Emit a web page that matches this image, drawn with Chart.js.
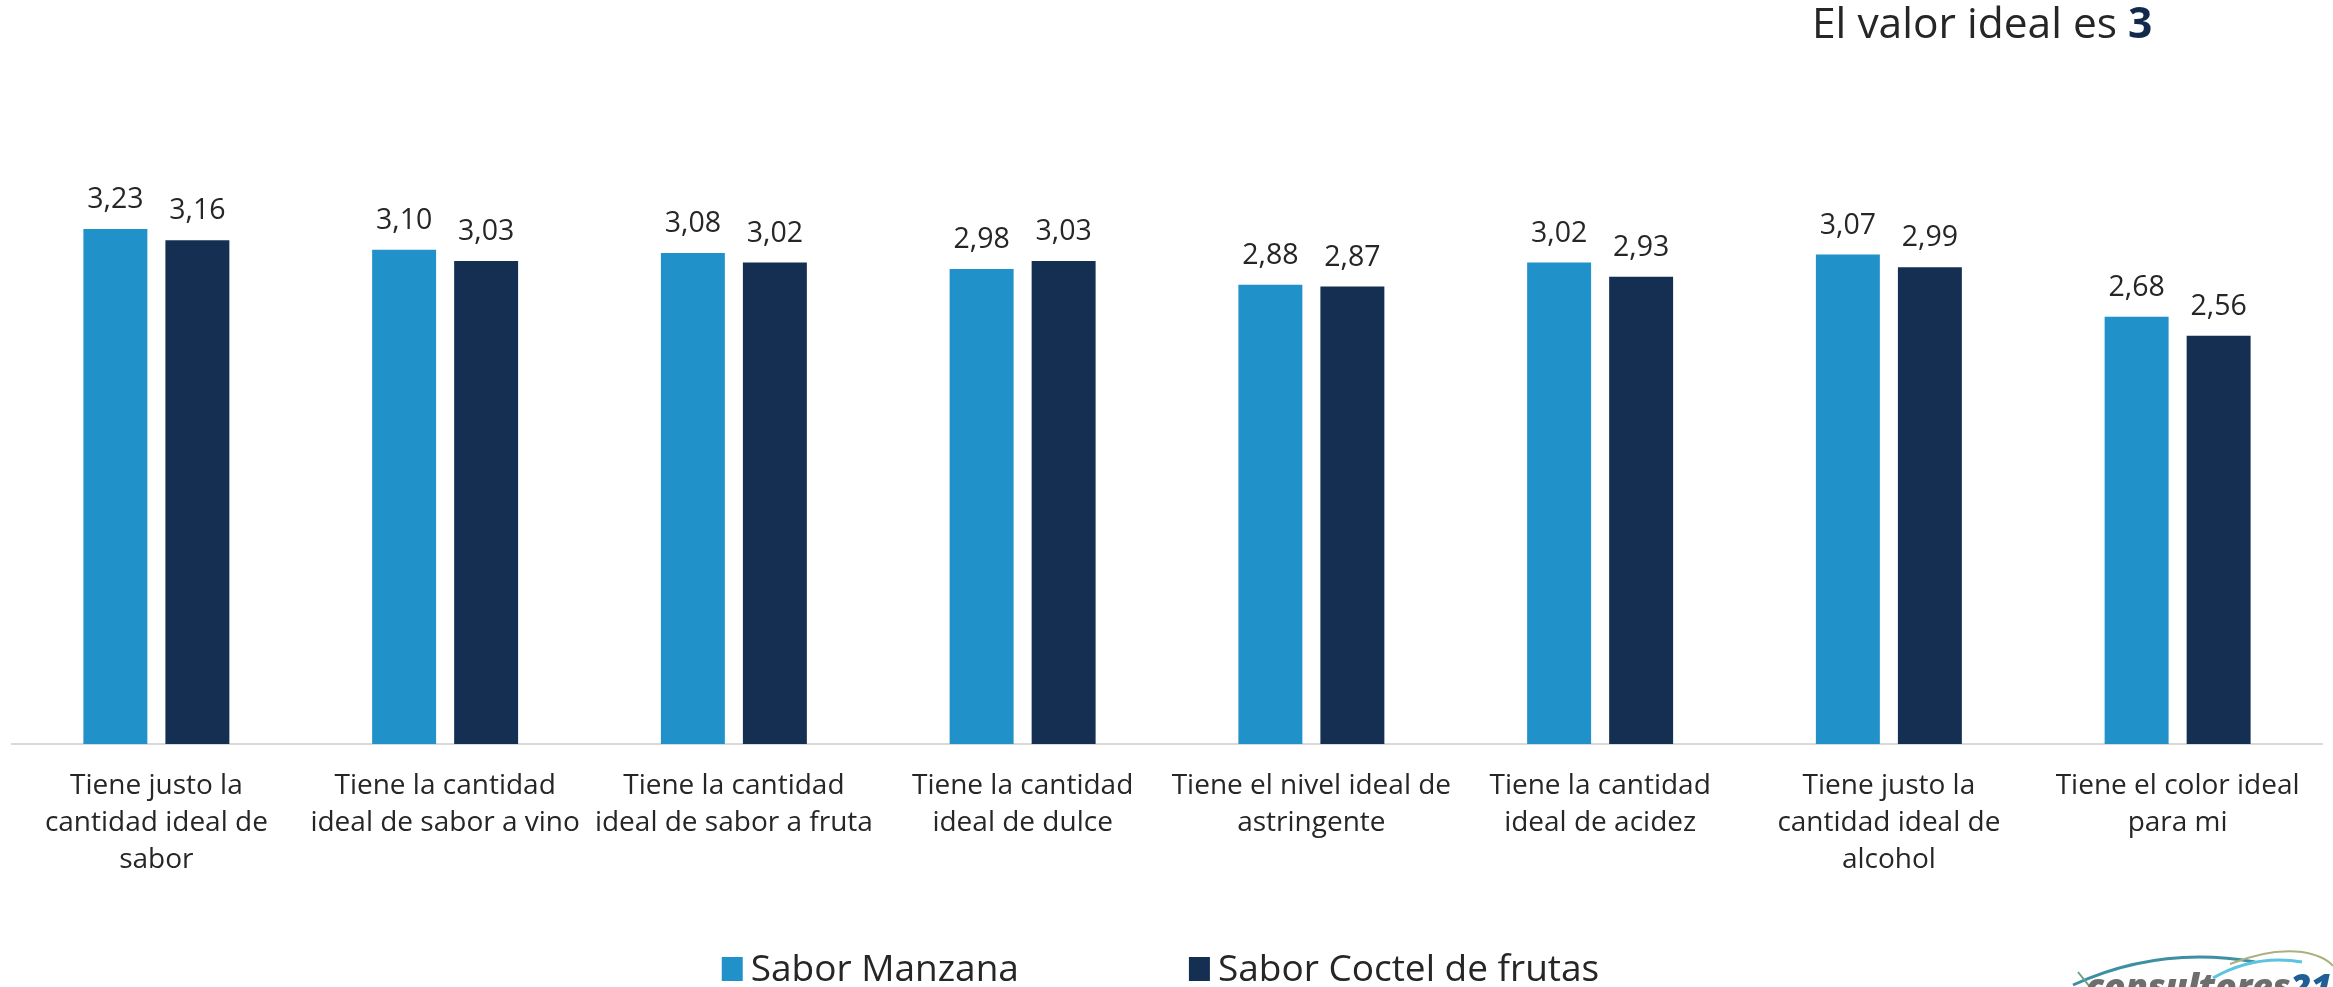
<!DOCTYPE html>
<html>
<head>
<meta charset="utf-8">
<script src="https://cdn.jsdelivr.net/npm/chart.js@4.4.1/dist/chart.umd.min.js"></script>
<style>
  html, body { margin: 0; padding: 0; background: #ffffff; overflow: hidden; }
  #wrap { position: relative; width: 2333px; height: 987px; overflow: hidden; }
  #c { position: absolute; left: 0; top: 0; }
  #title { position: absolute; left: 1812px; top: -7px; font-family: 'Open Sans', sans-serif; font-size: 42.5px; line-height: 58px; color: #262626; white-space: nowrap; }
  #title b { color: #13294B; font-weight: 700; }
  #logo { position: absolute; left: 2086px; top: 966px; font-family: 'Open Sans', sans-serif; font-size: 36px; font-weight: 800; font-style: italic; color: #6e6e6e; white-space: nowrap; line-height: 40px; letter-spacing: -0.3px; }
  #logo span { color: #1f5f95; }
  #arcs { position: absolute; left: 2040px; top: 930px; }
</style>
</head>
<body>
<div id="wrap">
  <canvas id="c" width="2333" height="987"></canvas>
  <div id="title">El valor ideal es <b>3</b></div>
  <svg id="arcs" width="293" height="57" viewBox="0 0 293 57">
    <path d="M33 55 Q 120 15 215 32" stroke="#3d8fa3" stroke-width="3" fill="none"/>
    <path d="M173 48 Q 215 24 262 32" stroke="#5cc3e0" stroke-width="3" fill="none"/>
    <path d="M190 34 Q 230 18 262 22 Q 285 26 293 36" stroke="#a9b27e" stroke-width="2" fill="none"/>
    <path d="M38 42 L 50 57" stroke="#6aa08a" stroke-width="2" fill="none"/>
  </svg>
  <div id="logo">consultores<span>21</span></div>
</div>
<script>
const categories = [
  ["Tiene justo la", "cantidad ideal de", "sabor"],
  ["Tiene la cantidad", "ideal de sabor a vino"],
  ["Tiene la cantidad", "ideal de sabor a fruta"],
  ["Tiene la cantidad", "ideal de dulce"],
  ["Tiene el nivel ideal de", "astringente"],
  ["Tiene la cantidad", "ideal de acidez"],
  ["Tiene justo la", "cantidad ideal de", "alcohol"],
  ["Tiene el color ideal", "para mi"]
];
const seriesNames = ["Sabor Manzana", "Sabor Coctel de frutas"];
const saborManzana = [3.23, 3.10, 3.08, 2.98, 2.88, 3.02, 3.07, 2.68];
const saborCoctel = [3.16, 3.03, 3.02, 3.03, 2.87, 2.93, 2.99, 2.56];

const FONT = "'Open Sans', sans-serif";
const TEXT = '#262626';

function fmt(v) { return v.toFixed(2).replace('.', ','); }

const valueLabels = {
  id: 'valueLabels',
  afterDatasetsDraw(chart) {
    const ctx = chart.ctx;
    ctx.save();
    ctx.font = '28.5px ' + FONT;
    ctx.fillStyle = TEXT;
    ctx.textAlign = 'center';
    ctx.textBaseline = 'middle';
    chart.data.datasets.forEach((ds, i) => {
      chart.getDatasetMeta(i).data.forEach((bar, j) => {
        ctx.fillText(fmt(ds.data[j]), bar.x, bar.y - 29);
      });
    });
    ctx.restore();
  }
};

const bottomLegend = {
  id: 'bottomLegend',
  afterDraw(chart) {
    const ctx = chart.ctx;
    ctx.save();
    ctx.font = '37px ' + FONT;
    ctx.textBaseline = 'middle';
    ctx.textAlign = 'left';
    const boxW = 21, boxH = 24, gapBox = 8, gapItem = 170;
    const items = chart.data.datasets.map(ds => ({ label: ds.label, color: ds.backgroundColor, w: ctx.measureText(ds.label).width }));
    let total = 0;
    items.forEach((it, k) => { total += boxW + gapBox + it.w + (k < items.length - 1 ? gapItem : 0); });
    let x = chart.width / 2 - total / 2 - 6;
    const cy = 969;
    items.forEach(it => {
      ctx.fillStyle = it.color;
      ctx.fillRect(x, cy - boxH / 2, boxW, boxH);
      ctx.fillStyle = TEXT;
      ctx.fillText(it.label, x + boxW + gapBox, cy + 1);
      x += boxW + gapBox + it.w + gapItem;
    });
    ctx.restore();
  }
};

new Chart(document.getElementById('c'), {
  type: 'bar',
  data: {
    labels: categories,
    datasets: [
      { label: seriesNames[0], data: saborManzana, backgroundColor: '#2191C9', borderWidth: 0 },
      { label: seriesNames[1], data: saborCoctel, backgroundColor: '#142F52', borderWidth: 0 }
    ]
  },
  options: {
    responsive: false,
    devicePixelRatio: 1,
    animation: false,
    layout: { padding: { top: 186, left: 12, right: 11, bottom: 0 } },
    datasets: { bar: { barPercentage: 0.78, categoryPercentage: 0.568 } },
    plugins: {
      legend: { display: false },
      tooltip: { enabled: false },
      title: { display: false }
    },
    scales: {
      x: {
        grid: { display: false, drawTicks: false },
        border: { display: true, color: '#D9D9D9', width: 2 },
        ticks: {
          font: { family: FONT, size: 28, lineHeight: 1.32 },
          color: TEXT,
          padding: 24,
          maxRotation: 0,
          minRotation: 0,
          autoSkip: false
        },
        afterFit: (scale) => { scale.height = 243; }
      },
      y: { display: false, min: 0, max: 3.5 }
    }
  },
  plugins: [valueLabels, bottomLegend]
});
</script>
</body>
</html>
